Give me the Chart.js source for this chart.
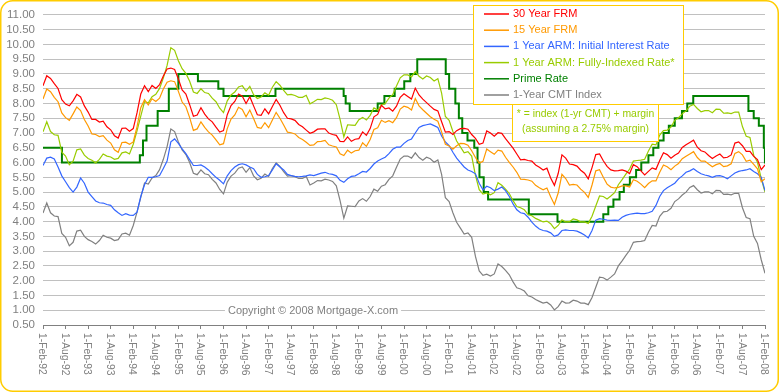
<!DOCTYPE html>
<html>
<head>
<meta charset="utf-8">
<script src="https://cdn.jsdelivr.net/npm/chart.js@4.4.1/dist/chart.umd.min.js"></script>
<style>
  html, body { margin: 0; padding: 0; background: #fff; }
  #wrap { width: 779px; height: 392px; }
</style>
</head>
<body>
<div id="wrap"><canvas id="chart" width="779" height="392"></canvas></div>
<script>
// monthly readings, index 0 = Feb 1992 ... 192 = Feb 2008
const frm30 = [
  8.60, 8.94, 8.85, 8.67, 8.51, 8.13, 7.98, 7.92, 8.09, 8.31, 8.22,
  7.92, 7.71, 7.46, 7.46, 7.37, 7.40, 7.21, 7.11, 6.91, 6.83, 7.16, 7.17,
  7.06, 7.15, 7.68, 8.32, 8.60, 8.40, 8.61, 8.51, 8.64, 8.93, 9.17, 9.20,
  9.15, 8.83, 8.46, 8.32, 7.96, 7.57, 7.61, 7.86, 7.64, 7.48, 7.38, 7.20,
  7.03, 7.08, 7.62, 7.93, 8.07, 8.32, 8.25, 8.00, 8.23, 7.92, 7.62, 7.60,
  7.82, 7.65, 7.90, 8.14, 7.94, 7.69, 7.50, 7.48, 7.43, 7.29, 7.21, 7.10,
  6.99, 7.04, 7.13, 7.14, 7.14, 7.00, 6.95, 6.92, 6.72, 6.71, 6.87, 6.72,
  6.79, 6.81, 7.04, 6.92, 7.15, 7.55, 7.63, 7.94, 7.82, 7.85, 7.74, 7.91,
  8.21, 8.33, 8.24, 8.15, 8.52, 8.29, 8.15, 8.03, 7.91, 7.80, 7.75, 7.38,
  7.03, 7.05, 6.95, 7.08, 7.15, 7.16, 7.13, 6.95, 6.82, 6.62, 6.66, 7.07,
  7.00, 6.89, 7.01, 6.99, 6.81, 6.65, 6.49, 6.29, 6.09, 6.11, 6.07, 6.05,
  5.92, 5.84, 5.75, 5.81, 5.48, 5.23, 5.63, 6.26, 6.15, 5.95, 5.93, 5.88,
  5.74, 5.64, 5.45, 5.83, 6.27, 6.29, 6.06, 5.87, 5.75, 5.72, 5.73, 5.75,
  5.71, 5.63, 5.93, 5.86, 5.72, 5.58, 5.70, 5.82, 5.77, 6.07, 6.33, 6.27,
  6.15, 6.25, 6.32, 6.51, 6.60, 6.68, 6.76, 6.52, 6.40, 6.36, 6.24, 6.14,
  6.22, 6.29, 6.16, 6.18, 6.26, 6.66, 6.70, 6.57, 6.38, 6.38, 6.21, 6.10,
  5.76, 5.92
];
const frm15 = [
  8.15, 8.49, 8.40, 8.21, 8.06, 7.68, 7.52, 7.43, 7.65, 7.88, 7.76,
  7.46, 7.24, 6.97, 6.95, 6.88, 6.91, 6.76, 6.66, 6.43, 6.35, 6.68, 6.69,
  6.62, 6.70, 7.21, 7.86, 8.13, 7.95, 8.16, 8.07, 8.18, 8.49, 8.72, 8.77,
  8.74, 8.41, 8.05, 7.89, 7.52, 7.09, 7.14, 7.38, 7.19, 7.04, 6.93, 6.77,
  6.60, 6.64, 7.15, 7.47, 7.61, 7.87, 7.80, 7.55, 7.78, 7.49, 7.19, 7.16,
  7.35, 7.18, 7.44, 7.70, 7.50, 7.27, 7.03, 7.01, 6.97, 6.85, 6.78, 6.69,
  6.58, 6.60, 6.71, 6.72, 6.75, 6.60, 6.56, 6.53, 6.30, 6.24, 6.42, 6.32,
  6.40, 6.42, 6.67, 6.55, 6.78, 7.12, 7.18, 7.43, 7.36, 7.42, 7.35, 7.52,
  7.81, 7.91, 7.87, 7.78, 8.17, 7.92, 7.79, 7.67, 7.55, 7.47, 7.40, 7.04,
  6.62, 6.56, 6.45, 6.57, 6.65, 6.64, 6.59, 6.40, 6.17, 5.98, 6.04, 6.46,
  6.37, 6.28, 6.42, 6.39, 6.18, 6.01, 5.85, 5.67, 5.44, 5.43, 5.41, 5.37,
  5.23, 5.15, 5.08, 5.14, 4.84, 4.58, 4.97, 5.60, 5.46, 5.24, 5.26, 5.24,
  5.10, 4.99, 4.82, 5.24, 5.72, 5.76, 5.50, 5.27, 5.17, 5.14, 5.16, 5.21,
  5.21, 5.17, 5.42, 5.37, 5.27, 5.15, 5.29, 5.38, 5.38, 5.67, 5.92, 5.86,
  5.76, 5.88, 5.97, 6.13, 6.21, 6.29, 6.37, 6.17, 6.05, 6.05, 5.95, 5.86,
  5.93, 5.97, 5.86, 5.89, 5.96, 6.31, 6.37, 6.26, 6.04, 6.08, 5.94, 5.79,
  5.35, 5.45
];
const armInitial = [
  5.90, 6.15, 6.18, 6.12, 5.85, 5.55, 5.35, 5.15, 5.00, 5.17, 5.48,
  5.30, 5.00, 4.85, 4.70, 4.64, 4.63, 4.58, 4.55, 4.40, 4.30, 4.21, 4.27,
  4.22, 4.21, 4.32, 4.85, 5.25, 5.50, 5.50, 5.52, 5.56, 5.80, 6.05, 6.70,
  6.80, 6.65, 6.46, 6.30, 6.10, 5.90, 5.90, 5.92, 5.85, 5.75, 5.62, 5.50,
  5.40, 5.28, 5.55, 5.73, 5.85, 5.93, 5.96, 5.92, 5.85, 5.79, 5.60, 5.50,
  5.52, 5.56, 5.75, 5.96, 5.85, 5.75, 5.60, 5.56, 5.53, 5.52, 5.53, 5.55,
  5.58, 5.56, 5.60, 5.64, 5.67, 5.62, 5.60, 5.55, 5.40, 5.33, 5.45, 5.53,
  5.55, 5.62, 5.70, 5.68, 5.80, 5.95, 6.05, 6.12, 6.18, 6.30, 6.45, 6.52,
  6.52, 6.65, 6.75, 6.80, 7.00, 7.19, 7.25, 7.28, 7.31, 7.25, 7.19, 6.90,
  6.70, 6.57, 6.35, 6.15, 6.00, 5.85, 5.75, 5.70, 5.62, 5.30, 5.08, 5.20,
  5.15, 5.05, 5.10, 5.17, 5.05, 4.85, 4.60, 4.40, 4.30, 4.27, 4.15, 3.98,
  3.85, 3.75, 3.70, 3.68, 3.62, 3.50, 3.55, 3.70, 3.72, 3.70, 3.70, 3.68,
  3.62, 3.55, 3.45, 3.70, 4.05, 4.10, 4.08, 4.05, 4.04, 4.05, 4.04, 4.15,
  4.21, 4.25, 4.27, 4.29, 4.27, 4.27, 4.30, 4.35, 4.55, 4.85, 5.05, 5.15,
  5.22, 5.30, 5.45, 5.55, 5.67, 5.72, 5.79, 5.70, 5.62, 5.58, 5.55, 5.50,
  5.55, 5.56, 5.52, 5.45, 5.55, 5.65, 5.70, 5.73, 5.75, 5.79, 5.70, 5.62,
  5.50, 5.05
];
const armIndexed = [
  7.04, 7.38, 7.05, 6.94, 6.92, 6.35, 6.22, 5.93, 6.05, 6.43, 6.46,
  6.25, 6.14, 6.08, 5.99, 6.11, 6.29, 6.22, 6.19, 6.11, 6.14, 6.33, 6.36,
  6.29, 6.62, 7.07, 7.57, 8.06, 8.02, 8.23, 8.31, 8.51, 8.86, 9.29, 9.89,
  9.80, 9.45, 9.18, 9.02, 8.75, 8.39, 8.34, 8.50, 8.37, 8.34, 8.18, 8.06,
  7.84, 7.69, 8.09, 8.29, 8.39, 8.56, 8.60, 8.42, 8.58, 8.30, 8.17, 8.22,
  8.36, 8.28, 8.55, 8.74, 8.62, 8.44, 8.29, 8.31, 8.27, 8.21, 8.21, 8.28,
  7.99, 8.06, 8.14, 8.13, 8.19, 8.16, 8.11, 7.96, 7.46, 6.87, 7.28, 7.27,
  7.26, 7.45, 7.53, 7.44, 7.60, 7.85, 7.78, 7.95, 8.00, 8.18, 8.30, 8.59,
  8.87, 8.97, 8.97, 8.90, 9.08, 8.92, 8.83, 8.93, 8.88, 8.76, 8.84, 8.35,
  7.56, 7.43, 7.05, 6.73, 6.53, 6.33, 6.37, 6.22, 5.57, 5.08, 4.93, 4.97,
  4.91, 4.98, 5.32, 5.23, 5.10, 4.95, 4.71, 4.51, 4.47, 4.40, 4.24, 4.20,
  4.11, 4.05, 3.99, 4.02, 3.93, 3.76, 3.87, 4.06, 3.99, 4.00, 4.09, 4.06,
  3.99, 3.99, 3.94, 4.18, 4.53, 4.87, 4.85, 4.77, 4.87, 4.98, 5.25, 5.42,
  5.61, 5.78, 6.05, 6.07, 6.08, 6.11, 6.39, 6.62, 6.60, 6.93, 7.08, 7.10,
  7.20, 7.43, 7.52, 7.65, 7.75, 7.91, 7.97, 7.83, 7.72, 7.76, 7.76, 7.69,
  7.81, 7.80, 7.67, 7.68, 7.66, 7.71, 7.71, 7.22, 6.89, 6.85, 6.25, 6.01,
  5.46, 5.00
];
const cmtIndex = [
  4.29, 4.63, 4.30, 4.19, 4.17, 3.60, 3.47, 3.18, 3.30, 3.68, 3.71,
  3.50, 3.39, 3.33, 3.24, 3.36, 3.54, 3.47, 3.44, 3.36, 3.39, 3.58, 3.61,
  3.54, 3.87, 4.32, 4.82, 5.31, 5.27, 5.48, 5.56, 5.76, 6.11, 6.54, 7.14,
  7.05, 6.70, 6.43, 6.27, 6.00, 5.64, 5.59, 5.75, 5.62, 5.59, 5.43, 5.31,
  5.09, 4.94, 5.34, 5.54, 5.64, 5.81, 5.85, 5.67, 5.83, 5.55, 5.42, 5.47,
  5.61, 5.53, 5.80, 5.99, 5.87, 5.69, 5.54, 5.56, 5.52, 5.46, 5.46, 5.53,
  5.24, 5.31, 5.39, 5.38, 5.44, 5.41, 5.36, 5.21, 4.71, 4.12, 4.53, 4.52,
  4.51, 4.70, 4.78, 4.69, 4.85, 5.10, 5.03, 5.20, 5.25, 5.43, 5.55, 5.84,
  6.12, 6.22, 6.22, 6.15, 6.33, 6.17, 6.08, 6.18, 6.13, 6.01, 6.09, 5.60,
  4.81, 4.68, 4.30, 3.98, 3.78, 3.58, 3.62, 3.47, 2.82, 2.33, 2.18, 2.22,
  2.16, 2.23, 2.57, 2.48, 2.35, 2.20, 1.96, 1.76, 1.72, 1.65, 1.49, 1.45,
  1.36, 1.30, 1.24, 1.27, 1.18, 1.01, 1.12, 1.31, 1.24, 1.25, 1.34, 1.31,
  1.24, 1.24, 1.19, 1.43, 1.78, 2.12, 2.10, 2.02, 2.12, 2.23, 2.50, 2.67,
  2.86, 3.03, 3.30, 3.32, 3.33, 3.36, 3.64, 3.87, 3.85, 4.18, 4.33, 4.35,
  4.45, 4.68, 4.77, 4.90, 5.00, 5.16, 5.22, 5.08, 4.97, 5.01, 5.01, 4.94,
  5.06, 5.05, 4.92, 4.93, 4.91, 4.96, 4.96, 4.47, 4.14, 4.10, 3.50, 3.26,
  2.71, 2.25
];
// prime rate changes (date it took effect, rate)
const primeDates = [
  '1992-02-01', '1992-07-02', '1994-03-24', '1994-04-19', '1994-05-17', '1994-08-16', '1994-11-15',
  '1995-02-01', '1995-07-07', '1995-12-20', '1996-02-01', '1997-03-26', '1998-09-30', '1998-10-16',
  '1998-11-18', '1999-07-01', '1999-08-25', '1999-11-17', '2000-02-03', '2000-03-22', '2000-05-17',
  '2001-01-04', '2001-02-01', '2001-03-21', '2001-04-19', '2001-05-16', '2001-06-28', '2001-08-22',
  '2001-09-18', '2001-10-03', '2001-11-07', '2001-12-12', '2002-11-07', '2003-06-26', '2004-07-01',
  '2004-08-11', '2004-09-22', '2004-11-11', '2004-12-15', '2005-02-03', '2005-03-23', '2005-05-04',
  '2005-07-01', '2005-08-10', '2005-09-21', '2005-11-02', '2005-12-14', '2006-02-01', '2006-03-29',
  '2006-05-11', '2006-06-29', '2007-09-19', '2007-11-01', '2007-12-12', '2008-01-22', '2008-01-31',
  '2008-02-01'
];
const primeRates = [
  6.50, 6.00, 6.25, 6.75, 7.25, 7.75, 8.50,
  9.00, 8.75, 8.50, 8.25, 8.50, 8.25, 8.00,
  7.75, 8.00, 8.25, 8.50, 8.75, 9.00, 9.50,
  9.00, 8.50, 8.00, 7.50, 7.00, 6.75, 6.50,
  6.00, 5.50, 5.00, 4.75, 4.25, 4.00, 4.25,
  4.50, 4.75, 5.00, 5.25, 5.50, 5.75, 6.00,
  6.25, 6.50, 6.75, 7.00, 7.25, 7.50, 7.75,
  8.00, 8.25, 7.75, 7.50, 7.25, 6.50, 6.00,
  6.00
];
const tickLabels = [
  '1-Feb-92', '1-Aug-92', '1-Feb-93', '1-Aug-93', '1-Feb-94', '1-Aug-94', '1-Feb-95', '1-Aug-95',
  '1-Feb-96', '1-Aug-96', '1-Feb-97', '1-Aug-97', '1-Feb-98', '1-Aug-98', '1-Feb-99', '1-Aug-99',
  '1-Feb-00', '1-Aug-00', '1-Feb-01', '1-Aug-01', '1-Feb-02', '1-Aug-02', '1-Feb-03', '1-Aug-03',
  '1-Feb-04', '1-Aug-04', '1-Feb-05', '1-Aug-05', '1-Feb-06', '1-Aug-06', '1-Feb-07', '1-Aug-07',
  '1-Feb-08'
];

const GRAY = '#808080';
const GOLD = '#FFCC00';
const FONT = '"Liberation Sans", Arial, sans-serif';

// months since 1-Feb-92
function monthPos(d) {
  const [y, m, day] = d.split('-').map(Number);
  return (y - 1992) * 12 + (m - 2) + (day - 1) / 30.5;
}
const toPoints = arr => arr.map((v, i) => ({ x: i, y: v }));

const extras = {
  id: 'extras',
  afterDraw(chart) {
    const ctx = chart.ctx;
    const xs = chart.scales.x;
    ctx.save();

    // x labels, reading top to bottom
    ctx.font = '10.3px ' + FONT;
    ctx.fillStyle = GRAY;
    ctx.textAlign = 'left';
    ctx.textBaseline = 'middle';
    tickLabels.forEach((t, i) => {
      const px = xs.getPixelForValue(i * 6);
      ctx.save();
      ctx.translate(px - 1, xs.bottom + 4);
      ctx.rotate(Math.PI / 2);
      ctx.fillText(t, 0, 0);
      ctx.restore();
    });

    // copyright
    ctx.font = '11px ' + FONT;
    const cw = ctx.measureText('Copyright © 2008 Mortgage-X.com').width;
    ctx.fillStyle = '#fff';
    ctx.fillRect(313 - cw / 2 - 3, 304, cw + 6, 14);
    ctx.fillStyle = GRAY;
    ctx.textAlign = 'center';
    ctx.fillText('Copyright © 2008 Mortgage-X.com', 313, 311);

    // legend box
    ctx.fillStyle = '#fff';
    ctx.fillRect(473.5, 5.5, 210, 99);
    ctx.strokeStyle = GOLD;
    ctx.lineWidth = 1;
    ctx.strokeRect(473.5, 5.5, 210, 99);
    ctx.textAlign = 'left';
    chart.data.datasets.forEach((ds, i) => {
      const y = 14 + i * 16.2;
      ctx.strokeStyle = ds.borderColor;
      ctx.lineWidth = 1.5;
      ctx.beginPath();
      ctx.moveTo(484, y);
      ctx.lineTo(509, y);
      ctx.stroke();
      ctx.fillStyle = ds.borderColor;
      ctx.fillText(ds.label, 513, y);
    });

    // margin note
    ctx.fillStyle = '#fff';
    ctx.fillRect(512.5, 104.5, 146, 37);
    ctx.strokeStyle = GOLD;
    ctx.lineWidth = 1;
    ctx.strokeRect(512.5, 104.5, 146, 37);
    ctx.font = '10.4px ' + FONT;
    ctx.fillStyle = '#99CC00';
    ctx.textAlign = 'center';
    ctx.fillText('* = index (1-yr CMT) + margin', 585.5, 114.5);
    ctx.fillText('(assuming a 2.75% margin)', 585.5, 129.5);

    // outer rounded frame
    ctx.strokeStyle = GOLD;
    ctx.lineWidth = 1.5;
    ctx.beginPath();
    ctx.roundRect(0.75, 0.75, 777.5, 390.5, 12);
    ctx.stroke();
    ctx.restore();
  }
};

new Chart(document.getElementById('chart'), {
  type: 'line',
  data: {
    datasets: [
      { label: '30 Year FRM', data: toPoints(frm30), borderColor: '#FF0000', borderWidth: 1.2 },
      { label: '15 Year FRM', data: toPoints(frm15), borderColor: '#FF9900', borderWidth: 1.2 },
      { label: '1 Year ARM: Initial Interest Rate', data: toPoints(armInitial), borderColor: '#3366FF', borderWidth: 1.2 },
      { label: '1 Year ARM: Fully-Indexed Rate*', data: toPoints(armIndexed), borderColor: '#99CC00', borderWidth: 1.2 },
      { label: 'Prime Rate', data: primeDates.map((d, i) => ({ x: monthPos(d), y: primeRates[i] })),
        borderColor: '#008000', borderWidth: 2, stepped: true },
      { label: '1-Year CMT Index', data: toPoints(cmtIndex), borderColor: GRAY, borderWidth: 1.2 }
    ]
  },
  options: {
    responsive: false,
    animation: false,
    devicePixelRatio: 1,
    layout: { padding: { left: 0, top: 14, right: 14, bottom: 63 } },
    elements: { point: { radius: 0 }, line: { tension: 0, fill: false } },
    plugins: { legend: { display: false }, tooltip: { enabled: false } },
    scales: {
      x: {
        type: 'linear',
        min: 0,
        max: 192,
        afterBuildTicks: s => { s.ticks = tickLabels.map((t, i) => ({ value: i * 6 })); },
        ticks: { display: false },
        grid: { drawOnChartArea: false, drawTicks: true, tickLength: 4, color: GRAY },
        border: { display: true, color: GRAY }
      },
      y: {
        min: 0.5,
        max: 11,
        afterFit: s => { s.width = 43; },
        ticks: {
          stepSize: 0.5,
          autoSkip: false,
          padding: 8,
          color: GRAY,
          font: { family: FONT, size: 11.5 },
          callback: v => v.toFixed(2)
        },
        grid: {
          drawTicks: false,
          color: c => (c.tick && c.tick.value === 0.5) ? GRAY : '#C0C0C0'
        },
        border: { display: false }
      }
    }
  },
  plugins: [extras]
});
</script>
</body>
</html>
